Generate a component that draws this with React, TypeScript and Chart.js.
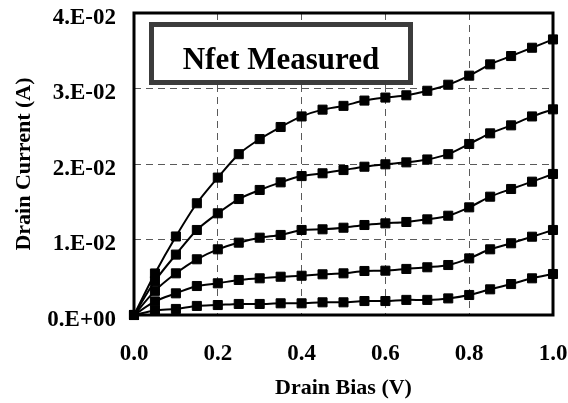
import React, { useEffect, useRef } from "react";
import { Chart, registerables } from "chart.js";

Chart.register(...registerables);

// Drain bias sweep (V)
const drainBias = [
  0, 0.05, 0.1, 0.15, 0.2, 0.25, 0.3, 0.35, 0.4, 0.45, 0.5,
  0.55, 0.6, 0.65, 0.7, 0.75, 0.8, 0.85, 0.9, 0.95, 1.0,
];

// Drain current (A), one curve per gate bias, lowest to highest
const idGate1 = [
  0, 0.0006, 0.0008, 0.0012, 0.00132, 0.00146, 0.00146, 0.00155, 0.00155, 0.00168, 0.00168,
  0.00185, 0.00185, 0.002, 0.002, 0.0022, 0.00265, 0.0034, 0.0041, 0.00486, 0.00543,
];
const idGate2 = [
  0, 0.0018, 0.00287, 0.00384, 0.0042, 0.00464, 0.00486, 0.00507, 0.0052, 0.00539, 0.00552,
  0.00583, 0.00587, 0.0061, 0.00632, 0.00662, 0.0075, 0.0087, 0.0095, 0.01037, 0.01126,
];
const idGate3 = [
  0, 0.0032, 0.00552, 0.00738, 0.0087, 0.00958, 0.01024, 0.0106, 0.01126, 0.01135, 0.01156,
  0.01192, 0.01214, 0.01232, 0.01267, 0.01315, 0.01426, 0.01567, 0.01669, 0.01766, 0.01868,
];
const idGate4 = [
  0, 0.0045, 0.008, 0.01126, 0.01347, 0.01536, 0.01656, 0.01757, 0.0184, 0.01877, 0.0192,
  0.01964, 0.01996, 0.02022, 0.0206, 0.0213, 0.02265, 0.02406, 0.02512, 0.0263, 0.02724,
];
const idGate5 = [
  0, 0.0055, 0.0104, 0.0148, 0.0182, 0.0213, 0.0233, 0.0249, 0.0263, 0.0272, 0.0277,
  0.0284, 0.0288, 0.0291, 0.0297, 0.0305, 0.0317, 0.0332, 0.0343, 0.0354, 0.0365,
];

const xTickLabels = ["0.0", "0.2", "0.4", "0.6", "0.8", "1.0"];
const yTickLabels = ["0.E+00", "1.E-02", "2.E-02", "3.E-02", "4.E-02"];

const chartTitle = "Nfet Measured";
const xTitle = "Drain Bias (V)";
const yTitle = "Drain Current (A)";

const FONT = "'Liberation Serif', 'Times New Roman', serif";

const series = [idGate1, idGate2, idGate3, idGate4, idGate5];

// Heavy frame around the plot area
const framePlugin = {
  id: "plotFrame",
  afterDatasetsDraw(chart: any) {
    const { ctx, chartArea: a } = chart;
    ctx.save();
    ctx.strokeStyle = "#000";
    ctx.lineWidth = 3;
    ctx.strokeRect(a.left, a.top, a.right - a.left, a.bottom - a.top);
    ctx.restore();
  },
};

// Boxed caption in the upper-left of the plot
const captionPlugin = {
  id: "caption",
  afterDraw(chart: any) {
    const { ctx, chartArea: a } = chart;
    const x = a.left + 17.5;
    const y = a.top + 11.5;
    const w = 259;
    const h = 58;
    ctx.save();
    ctx.fillStyle = "#fff";
    ctx.fillRect(x, y, w, h);
    ctx.strokeStyle = "#3c3c3c";
    ctx.lineWidth = 5;
    ctx.strokeRect(x, y, w, h);
    ctx.fillStyle = "#000";
    ctx.font = `bold 31px ${FONT}`;
    ctx.textAlign = "center";
    ctx.textBaseline = "alphabetic";
    ctx.fillText(chartTitle, x + w / 2, y + 44);
    ctx.restore();
  },
};

const clearPadding = (s: any) => {
  s.paddingTop = 0;
  s.paddingBottom = 0;
  s.paddingLeft = 0;
  s.paddingRight = 0;
};

export default function App() {
  const canvasRef = useRef<HTMLCanvasElement | null>(null);

  useEffect(() => {
    const canvas = canvasRef.current;
    if (!canvas) return;

    const datasets = series.map((vals) => ({
      data: drainBias.map((x, i) => ({ x, y: vals[i] })),
      borderColor: "#000",
      borderWidth: 2,
      backgroundColor: "#000",
      pointStyle: "rect" as const,
      pointRadius: 6.4,
      pointBorderWidth: 1,
      pointBorderColor: "#000",
      pointBackgroundColor: "#000",
      tension: 0.3,
      clip: false as any,
    }));

    const gridDash = {
      color: "#5a5a5a",
      lineWidth: 1,
      drawTicks: false,
    };

    const chart = new Chart(canvas, {
      type: "line",
      data: { datasets },
      plugins: [framePlugin, captionPlugin],
      options: {
        animation: false,
        responsive: false,
        devicePixelRatio: 1,
        layout: { padding: { top: 13, right: 15, left: 0, bottom: 0 } },
        plugins: {
          legend: { display: false },
          tooltip: { enabled: false },
        },
        scales: {
          x: {
            type: "linear",
            min: 0,
            max: 1,
            grid: gridDash,
            border: { display: false, dash: [7, 5] },
            ticks: {
              stepSize: 0.2,
              padding: 25,
              color: "#000",
              font: { family: FONT, size: 23, weight: "bold" },
              maxRotation: 0,
              callback: (_v: any, i: number) => xTickLabels[i],
            },
            title: {
              display: true,
              text: xTitle,
              color: "#000",
              font: { family: FONT, size: 22, weight: "bold" },
              padding: { top: 1, bottom: 1 },
            },
            afterFit: (s: any) => {
              s.height = 88;
              clearPadding(s);
            },
          },
          y: {
            type: "linear",
            min: 0,
            max: 0.04,
            grid: gridDash,
            border: { display: false, dash: [7, 5] },
            ticks: {
              stepSize: 0.01,
              padding: 18,
              labelOffset: 5,
              color: "#000",
              font: { family: FONT, size: 23, weight: "bold" },
              callback: (_v: any, i: number) => yTickLabels[i],
            },
            title: {
              display: true,
              text: yTitle,
              color: "#000",
              font: { family: FONT, size: 22, weight: "bold" },
              padding: { top: 11, bottom: 11 },
            },
            afterFit: (s: any) => {
              s.width = 134;
              clearPadding(s);
            },
          },
        },
      },
    });

    return () => chart.destroy();
  }, []);

  return (
    <div style={{ position: "fixed", left: 0, top: 0, width: 568, height: 403, background: "#fff" }}>
      <canvas ref={canvasRef} width={568} height={403} style={{ display: "block" }} />
    </div>
  );
}
